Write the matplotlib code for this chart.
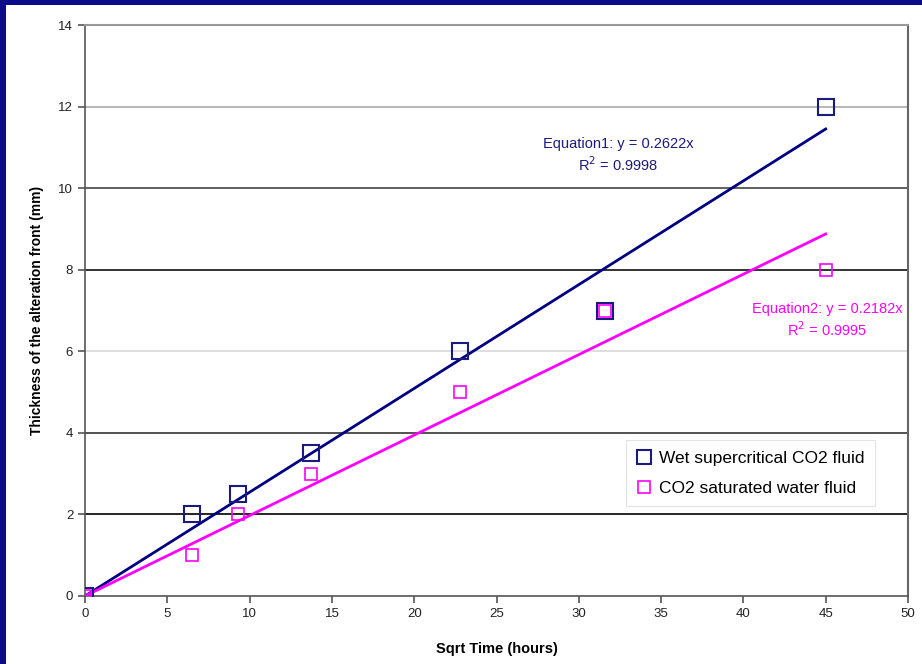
import numpy as np
import matplotlib.pyplot as plt
from matplotlib.patches import Rectangle

plt.rcParams['font.family'] = ['Liberation Sans', 'DejaVu Sans']

# data
sqrt_time = [0, 6.5, 9.3, 13.7, 22.8, 31.6, 45]
wet_sc = [0, 2, 2.5, 3.5, 6, 7, 12]
sat_water = [0, 1, 2, 3, 5, 7, 8]

eq1_text = 'Equation1: y = 0.2622x\nR$^2$ = 0.9998'
eq2_text = 'Equation2: y = 0.2182x\nR$^2$ = 0.9995'

navy = '#1a1a80'
pink = '#ff00ff'

x = np.array(sqrt_time, dtype=float)
# trendlines through origin (least squares)
k1 = np.sum(x * np.array(wet_sc)) / np.sum(x * x)
k2 = np.sum(x * np.array(sat_water)) / np.sum(x * x)
xl = np.array([0, x.max()])

fig = plt.figure(figsize=(9.22, 6.64), dpi=100)
fig.patch.set_facecolor('#0c0c88')
fig.patches.append(Rectangle((6 / 922, 0), 1, 1 - 5 / 664, transform=fig.transFigure,
                             facecolor='white', edgecolor='none', zorder=-10))

ax = fig.add_axes([85 / 922, 68 / 664, 823 / 922, 571 / 664])
ax.set_zorder(5)
ax.set_xlim(0, 50)
ax.set_ylim(0, 14)

# grid lines with varying darkness like the original
grid_cols = {2: '#000000', 4: '#333333', 6: '#d8d8d8', 8: '#111111', 10: '#444444', 12: '#aaaaaa'}
for yv, c in grid_cols.items():
    ax.axhline(yv, color=c, lw=1.2, zorder=1)

ax.plot(xl, k1 * xl, color='#000080', lw=2, zorder=3)
ax.plot(xl, k2 * xl, color=pink, lw=2, zorder=3)

ax.plot(sqrt_time, wet_sc, ls='none', marker='s', ms=12, mfc='none', mec=navy, mew=1.5,
        label='Wet supercritical CO2 fluid', zorder=4)
ax.plot(sqrt_time, sat_water, ls='none', marker='s', ms=8, mfc='none', mec=pink, mew=1.2,
        label='CO2 saturated water fluid', zorder=4)

ax.text(32.4, 10.8, eq1_text, color='#1a1a80', fontsize=10.5, ha='center', va='center',
        linespacing=1.3)
ax.text(45.1, 6.75, eq2_text, color=pink, fontsize=10.5, ha='center', va='center',
        linespacing=1.3)

ax.set_xticks(np.arange(0, 51, 5))
ax.set_yticks(np.arange(0, 15, 2))
ax.tick_params(direction='out', length=5, width=1.2, color='#555555', labelsize=9.5,
               labelcolor='#222222')
for s in ['left', 'bottom']:
    ax.spines[s].set_color('#555555')
    ax.spines[s].set_linewidth(1.2)
ax.spines['right'].set_color('#666666')
ax.spines['right'].set_linewidth(1.5)
ax.spines['top'].set_color('#999999')
ax.spines['top'].set_linewidth(1.5)

ax.set_xlabel('Sqrt Time (hours)', fontsize=10.5, fontweight='bold', labelpad=16)
ax.set_ylabel('Thickness of the alteration front (mm)', fontsize=10, fontweight='bold',
              labelpad=10)

leg = ax.legend(loc='lower right', bbox_to_anchor=(0.96, 0.157), fontsize=12.5,
                frameon=True, fancybox=False, handlelength=0.8, handletextpad=0.5,
                borderpad=0.6, labelspacing=0.85, borderaxespad=0,
                markerscale=0.8)
leg.legend_handles[1].set_markersize(9)
leg.get_frame().set_edgecolor('#dddddd')
leg.get_frame().set_linewidth(0.8)

fig.savefig('out.png', dpi=100, facecolor=fig.get_facecolor())
